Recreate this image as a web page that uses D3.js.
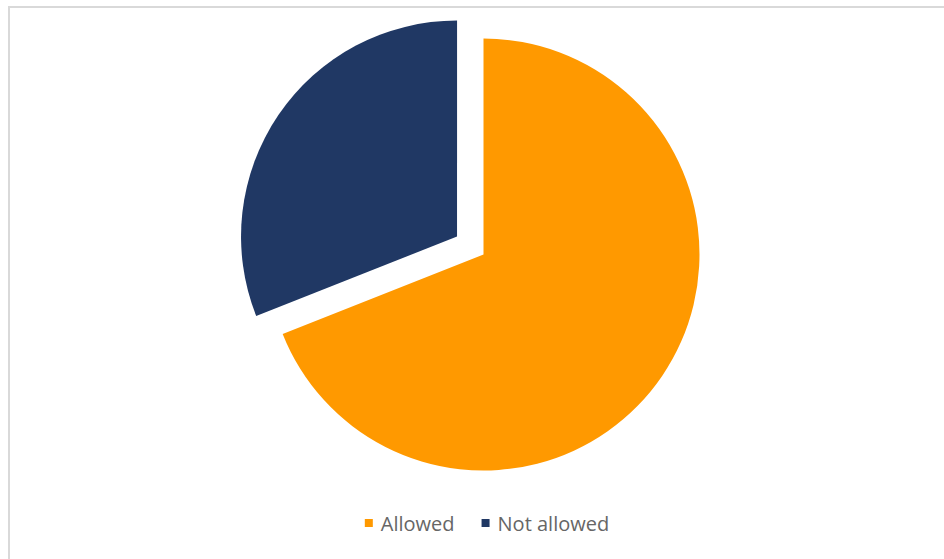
<!DOCTYPE html>
<html>
<head>
<meta charset="utf-8">
<script src="https://cdn.jsdelivr.net/npm/d3@7"></script>
<style>
  body { margin: 0; background: #fff; }
  svg { display: block; }
</style>
</head>
<body>
<svg id="chart" width="944" height="559"></svg>
<script>
// values
const categories = ["Allowed", "Not allowed"];
const values = [69, 31];
const colors = ["#ff9900", "#203864"];

const width = 944, height = 559;
const svg = d3.select("#chart");

// chart area border (right/bottom fall outside the frame)
svg.append("rect")
    .attr("x", 9).attr("y", 7)
    .attr("width", 960).attr("height", 580)
    .attr("fill", "#fff")
    .attr("stroke", "#d9d9d9")
    .attr("stroke-width", 2);

const cx = 483.5, cy = 254.5, radius = 216;
const explode = [0, 32]; // pull-out per slice

const pie = d3.pie().sort(null).value(d => d.value);
const arc = d3.arc().innerRadius(0).outerRadius(radius);

const data = categories.map((c, i) => ({ key: c, value: values[i], color: colors[i], off: explode[i] }));

let g = svg.append("g").attr("transform", "translate(" + cx + "," + cy + ")");

g.selectAll("path")
    .data(pie(data))
    .enter()
    .append("path")
    .attr("d", arc)
    .attr("fill", d => d.data.color)
    .attr("transform", d => {
        let mid = (d.startAngle + d.endAngle) / 2;
        let dx = Math.sin(mid) * d.data.off;
        let dy = -Math.cos(mid) * d.data.off;
        return "translate(" + dx + "," + dy + ")";
    });

// legend
let legend = svg.append("g").attr("class", "legend");
let items = legend.selectAll("g")
    .data(data)
    .enter()
    .append("g");

items.append("rect")
    .attr("width", 8).attr("height", 8)
    .attr("y", 519)
    .attr("fill", d => d.color);

items.append("text")
    .attr("x", 16)
    .attr("y", 531)
    .style("font-family", "'Open Sans', sans-serif")
    .style("font-size", "20px")
    .style("fill", "#666666")
    .text(d => d.key);

// lay out items side by side and center them
let xpos = 0;
items.each(function() {
    let w = this.getBBox().width;
    d3.select(this).attr("transform", "translate(" + xpos + ",0)");
    xpos += w + 27;
});
let total = xpos - 27;
legend.attr("transform", "translate(" + (487 - total / 2) + ",0)");
</script>
</body>
</html>
